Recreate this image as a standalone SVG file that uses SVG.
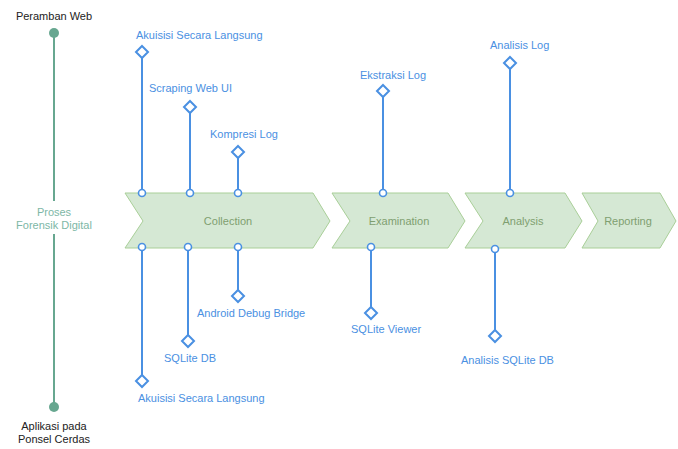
<svg xmlns="http://www.w3.org/2000/svg" width="678" height="449" viewBox="0 0 678 449">
<style>
text{font-family:"Liberation Sans",Arial,sans-serif;font-size:11px}
.blk{fill:#222}
.tl{fill:#7db7a6}
.lbl{fill:#4a90e2}
.stage{fill:#d5e8d4;stroke:#a9cf98;stroke-width:1}
.stxt{fill:#7f9f70;text-anchor:middle}
.con{stroke:#4a90e2;stroke-width:2;fill:none}
.dia{stroke:#4a90e2;stroke-width:2;fill:#fff}
.dot{stroke:#4a90e2;stroke-width:1.6;fill:#fff}
</style>
<rect width="678" height="449" fill="#fff"/>
<g id="timeline">
<line x1="54" y1="33" x2="54" y2="201" stroke="#67a790" stroke-width="2"/>
<line x1="54" y1="234" x2="54" y2="407" stroke="#67a790" stroke-width="2"/>
<circle cx="54" cy="33" r="5" fill="#67a790"/>
<circle cx="54" cy="407" r="5" fill="#67a790"/>
<text class="blk" x="54" y="20" text-anchor="middle">Peramban Web</text>
<text class="tl" x="54" y="216" text-anchor="middle">Proses</text>
<text class="tl" x="54" y="229" text-anchor="middle">Forensik Digital</text>
<text class="blk" x="54" y="430" text-anchor="middle">Aplikasi pada</text>
<text class="blk" x="54" y="443" text-anchor="middle">Ponsel Cerdas</text>
</g>
<g id="collection">
<polygon class="stage" points="125,193 313,193 330,221 313,248 125,248 143,221"/>
<text class="stxt" x="228" y="225">Collection</text>
</g>
<g id="examination">
<polygon class="stage" points="332,193 448,193 465,221 448,248 332,248 350,221"/>
<text class="stxt" x="399" y="225">Examination</text>
</g>
<g id="analysis">
<polygon class="stage" points="465,193 565,193 582,221 565,248 465,248 483,221"/>
<text class="stxt" x="523" y="225">Analysis</text>
</g>
<g id="reporting">
<polygon class="stage" points="582,193 660,193 676,221 660,248 582,248 598,221"/>
<text class="stxt" x="628" y="225">Reporting</text>
</g>
<g id="connectors">
<line class="con" x1="142" y1="58" x2="142" y2="193"/>
<line class="con" x1="190" y1="113" x2="190" y2="193"/>
<line class="con" x1="238" y1="158" x2="238" y2="193"/>
<line class="con" x1="383" y1="97" x2="383" y2="193"/>
<line class="con" x1="510" y1="69" x2="510" y2="193"/>
<line class="con" x1="142" y1="247" x2="142" y2="375"/>
<line class="con" x1="188" y1="247" x2="188" y2="335"/>
<line class="con" x1="238" y1="247" x2="238" y2="290"/>
<line class="con" x1="371" y1="247" x2="371" y2="307"/>
<line class="con" x1="495" y1="249" x2="495" y2="330"/>
</g>
<g id="akuisisi-top">
<polygon class="dia" points="142,46 148,52 142,58 136,52"/>
<circle class="dot" cx="142" cy="193" r="3.5"/>
<text class="lbl" x="136" y="39">Akuisisi Secara Langsung</text>
</g>
<g id="scraping">
<polygon class="dia" points="190,101 196,107 190,113 184,107"/>
<circle class="dot" cx="190" cy="193" r="3.5"/>
<text class="lbl" x="149" y="92">Scraping Web UI</text>
</g>
<g id="kompresi">
<polygon class="dia" points="238,146 244,152 238,158 232,152"/>
<circle class="dot" cx="238" cy="193" r="3.5"/>
<text class="lbl" x="210" y="138">Kompresi Log</text>
</g>
<g id="ekstraksi">
<polygon class="dia" points="383,85 389,91 383,97 377,91"/>
<circle class="dot" cx="383" cy="193" r="3.5"/>
<text class="lbl" x="360" y="79">Ekstraksi Log</text>
</g>
<g id="analisis-log">
<polygon class="dia" points="510,57 516,63 510,69 504,63"/>
<circle class="dot" cx="510" cy="193" r="3.5"/>
<text class="lbl" x="490" y="49">Analisis Log</text>
</g>
<g id="akuisisi-bottom">
<circle class="dot" cx="142" cy="247" r="3.5"/>
<polygon class="dia" points="142,375 148,381 142,387 136,381"/>
<text class="lbl" x="138" y="402">Akuisisi Secara Langsung</text>
</g>
<g id="sqlite-db">
<circle class="dot" cx="188" cy="247" r="3.5"/>
<polygon class="dia" points="188,335 194,341 188,347 182,341"/>
<text class="lbl" x="164" y="362">SQLite DB</text>
</g>
<g id="adb">
<circle class="dot" cx="238" cy="247" r="3.5"/>
<polygon class="dia" points="238,290 244,296 238,302 232,296"/>
<text class="lbl" x="197" y="317">Android Debug Bridge</text>
</g>
<g id="sqlite-viewer">
<circle class="dot" cx="371" cy="247" r="3.5"/>
<polygon class="dia" points="371,307 377,313 371,319 365,313"/>
<text class="lbl" x="351" y="333">SQLite Viewer</text>
</g>
<g id="analisis-sqlite">
<circle class="dot" cx="495" cy="249" r="3.5"/>
<polygon class="dia" points="495,330 501,336 495,342 489,336"/>
<text class="lbl" x="461" y="364">Analisis SQLite DB</text>
</g>
</svg>
